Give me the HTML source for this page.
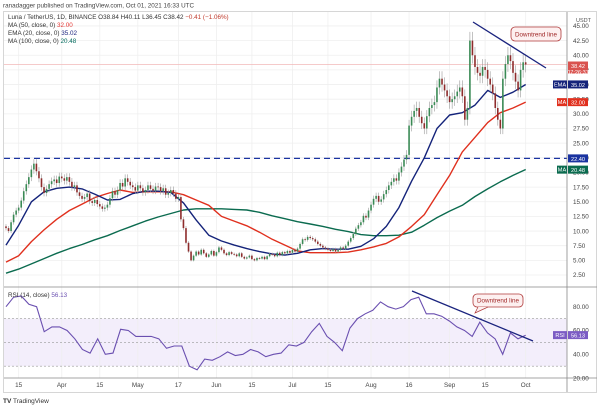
<!DOCTYPE html>
<html><head><meta charset="utf-8"><style>
body{margin:0;background:#fff;width:600px;height:408px;overflow:hidden}
svg{display:block;font-family:"Liberation Sans",sans-serif}
</style></head><body>
<svg id="chart" width="600" height="408" viewBox="0 0 600 408" xmlns="http://www.w3.org/2000/svg">
<text x="3" y="7.5" font-size="6.3" fill="#444">ranadagger published on TradingView.com, Oct 01, 2021 16:33 UTC</text>
<rect x="3.5" y="11.5" width="593" height="381" fill="none" stroke="#d6d6d6"/>
<rect x="4" y="318.6" width="563" height="47.6" fill="#f3eefb"/>
<g id="grid"></g>
<g id="price"></g>
<g id="rsi"></g>
<g id="axes"></g>
<text x="8" y="19" font-size="6.3" fill="#333">Luna / TetherUS, 1D, BINANCE  O38.84  H40.11  L36.45  C38.42  <tspan fill="#c0392b">−0.41 (−1.06%)</tspan></text>
<text x="8" y="27" font-size="6.3" fill="#333">MA (50, close, 0) <tspan fill="#e53935">32.00</tspan></text>
<text x="8" y="35" font-size="6.3" fill="#333">EMA (20, close, 0) <tspan fill="#1a237e">35.02</tspan></text>
<text x="8" y="43" font-size="6.3" fill="#333">MA (100, close, 0) <tspan fill="#00695c">20.48</tspan></text>
<text x="8" y="297" font-size="6.3" fill="#333">RSI (14, close) <tspan fill="#6a4fb0">56.13</tspan></text>
<line x1="473" y1="22" x2="546" y2="68" stroke="#1a237e" stroke-width="1.3"/>
<rect x="511" y="27" width="50" height="14" rx="4" fill="#fdf0f0" stroke="#b03a3a" stroke-width="0.8"/>
<text x="536" y="36.5" font-size="6.3" fill="#a02828" text-anchor="middle">Downtrend line</text>
<line x1="412" y1="291" x2="533" y2="341" stroke="#1a237e" stroke-width="1.3"/>
<rect x="473" y="294" width="50" height="13" rx="4" fill="#fdf0f0" stroke="#b03a3a" stroke-width="0.8"/>
<path d="M478 307 L475 313 L488 307" fill="#fdf0f0" stroke="#b03a3a" stroke-width="0.7"/>
<text x="498" y="302.5" font-size="6.3" fill="#a02828" text-anchor="middle">Downtrend line</text>
<g id="badges"></g>
<text x="3" y="403" font-size="6.5" fill="#333"><tspan font-weight="bold">TV</tspan> TradingView</text>
</svg>
<script>
const closes=[10.5,10,11.5,12.8,13.5,14,15.2,16.8,18,19.2,
20.5,21.5,20.2,19,17.5,16.5,17.2,18,18.5,18.8,
18.2,19.3,19,18.6,19.2,18.4,17.5,17.8,16.6,16.0,
15.5,15.8,16.4,15.1,14.8,15.3,14.6,14.2,13.8,14.0,
14.5,15.6,16.8,16.2,17,18.2,17.6,19,18.4,17.8,
17.5,16.9,17.8,17.3,16.6,17,17.8,17.2,16.9,17.6,
17.5,16.8,17.3,16.2,16.5,17.0,16.4,15.5,15.8,12,
10.5,8,6.5,5,5.8,6.5,6.0,6.8,6.2,5.6,
6,6.6,5.8,6.4,7.2,6.8,6.2,5.9,6.4,6.1,
6,5.7,6.2,5.6,5.3,5.5,5.8,5.2,5.0,5.4,
5.3,5.6,5.2,5.7,6.1,6,5.7,6.3,5.9,6.4,
6.2,6.6,6.3,6.8,6.5,7,7.8,8.6,8.5,9,
8.8,8.6,8.2,7.8,7.5,7.2,7,6.8,6.6,6.9,
6.5,6.8,7.2,7.0,7.5,8.2,8.8,9.5,10.4,11,
11.5,12.6,12.3,13.5,14.5,15.5,16,15,15.4,16.3,
17,17.8,18.4,19,18.6,20,21,22.2,23,28,
29.5,30.5,31,29.5,28.4,27.5,29.6,31,31.5,32,
34.5,36,35,34,33,32,32.5,33,33.8,34.5,
33,29,31,42.5,40,38,37,36.5,38,37.5,
36,35,33.5,31,29,27.5,36,38.5,40,39,
37,35.5,34,37.5,38.8,38.42];
const firstOpen=10.8;
const ema20=[7.6,11,15,16.7,17.3,17.5,17.2,16.3,15.3,15.4,16.4,16.8,16.8,16.6,14.8,11.9,9.3,8.3,7.6,7.0,6.5,6.1,5.9,6.2,6.8,7.0,6.9,6.9,7.4,8.7,10.8,14.0,18.5,22.5,27.5,29.8,30.2,31.5,34,32.8,33.7,35.0];
const ma50=[4.7,5.8,8.2,10.2,12,13.5,14.6,15.7,16.4,17,16.6,16.7,16.7,16.7,16.2,15.3,14.4,12.5,11.7,10.9,9.8,8.6,7.6,6.6,6.3,6.3,6.3,6.4,6.8,7.3,7.9,9.0,10.8,12.8,16.2,19.5,23.5,26,28.5,30.2,31,32];
const ma100=[2.8,3.5,4.4,5.3,6.2,7.0,7.7,8.5,9.2,10.1,10.9,11.7,12.4,13.0,13.6,13.8,13.8,13.8,13.7,13.6,13.2,12.6,12.1,11.6,11.2,10.8,10.3,9.9,9.4,9.2,9.2,9.3,9.8,11.0,12.3,13.4,14.4,15.9,17.2,18.4,19.5,20.5];
const rsiVals=[80,88,89,82,80,59,63,63,60,53,44,41,53,40,41,61,60,55,55,55,53,45,47,47,30,27,36,35,38,42,39,40,44,42,38,40,41,48,47,50,59,66,55,50,43,62,70,74,77,84,80,78,80,86,88,74,74,72,68,63,60,55,67,58,53,40,58,53,56];
const priceTicks=[45,42.5,40,37.5,35,32.5,30,27.5,25,22.5,20,17.5,15,12.5,10,7.5,5,2.5];
const rsiTicks=[80,60,40,20];
const timeLabels=["15","Apr","15","May","17","Jun","15","Jul","15","Aug","16","Sep","15","Oct"];
const timeDays=[5,22,37,52,68,83,97,113,127,144,159,175,189,205];
const support=22.40, lastPrice=38.42;

const NS="http://www.w3.org/2000/svg";
const xD=i=>6+i*2.535;
const yP=p=>275-(p-2.5)*5.86;
const yR=r=>306.7+(80-r)*1.19;
function mk(tag,attrs,parent){const e=document.createElementNS(NS,tag);for(const k in attrs)e.setAttribute(k,attrs[k]);document.getElementById(parent).appendChild(e);return e;}

// grid
priceTicks.forEach(p=>{const l=mk('line',{x1:4,x2:567,y1:yP(p),y2:yP(p),stroke:'#efefef','stroke-width':0.8},'grid');

});
timeDays.forEach(d=>{const l=mk('line',{x1:xD(d),x2:xD(d),y1:12,y2:378,stroke:'#efefef','stroke-width':0.8},'grid');

});
[70,50,30].forEach(r=>{const l=mk('line',{x1:4,x2:567,y1:yR(r),y2:yR(r),stroke:'#999','stroke-width':0.6,'stroke-dasharray':'2,2'},'grid');

});
// last price line
const lp=mk('line',{x1:4,x2:567,y1:yP(lastPrice),y2:yP(lastPrice),stroke:'#f2b8b8','stroke-width':0.7},'grid');


const sl=mk('line',{x1:4,x2:567,y1:yP(support),y2:yP(support),stroke:'#1a33a0','stroke-width':1.2,'stroke-dasharray':'6,4'},'grid');



// MA lines
function maLine(arr,color,name){const pts=arr.map((v,k)=>xD(k*5).toFixed(1)+','+yP(v).toFixed(1)).join(' ');
const l=mk('polyline',{points:pts,fill:'none',stroke:color,'stroke-width':1.4,'stroke-linejoin':'round'},'price');

}
maLine(ma100,'#0b6b4f','ma100-line');
maLine(ma50,'#e0301e','ma50-line');
maLine(ema20,'#14237a','ema20-line');

// candles
closes.forEach((c,i)=>{const o=i?closes[i-1]:firstOpen;const hi=Math.max(o,c)*1.035,lo=Math.min(o,c)*0.965;const x=xD(i);
const up=c>=o;
const w=mk('line',{x1:x,x2:x,y1:yP(hi),y2:yP(lo),stroke:'#9a9a9a','stroke-width':0.6},'price');


const t=Math.min(yP(o),yP(c)),h=Math.max(0.8,Math.abs(yP(o)-yP(c)));
const b=mk('rect',{x:x-0.8,y:t,width:1.6,height:h,fill:up?'#3a8a55':'#8e2c2c'},'price');

});

// RSI
const step=205/(rsiVals.length-1);
const rp=mk('polyline',{points:rsiVals.map((v,k)=>xD(k*step).toFixed(1)+','+yR(v).toFixed(1)).join(' '),fill:'none',stroke:'#6a4fb0','stroke-width':1.1},'rsi');



// axes
[[567,12,567,392],[4,287,597,287],[4,378,597,378]].forEach(a=>{const l=mk('line',{x1:a[0],y1:a[1],x2:a[2],y2:a[3],stroke:'#888','stroke-width':0.8},'axes');

});
priceTicks.forEach(p=>{const t=mk('text',{x:573,y:yP(p)+2.2,'font-size':6.3,fill:'#444'},'axes');t.textContent=p.toFixed(2);

});
rsiTicks.forEach(r=>{const t=mk('text',{x:573,y:yR(r)+2.2,'font-size':6.3,fill:'#444'},'axes');t.textContent=r.toFixed(2);

});
timeLabels.forEach((s,k)=>{const t=mk('text',{x:xD(timeDays[k]),y:387,'font-size':6.3,fill:'#444','text-anchor':'middle'},'axes');t.textContent=s;

});

// badges
function badge(y,h,fill,lines,name,tag){const g=mk('g',{},'badges');


const r=document.createElementNS(NS,'rect');r.setAttribute('x',568);r.setAttribute('y',y-h/2);r.setAttribute('width',20);r.setAttribute('height',h);r.setAttribute('fill',fill);g.appendChild(r);
lines.forEach((s,k)=>{const t=document.createElementNS(NS,'text');t.setAttribute('x',578);t.setAttribute('y',y-h/2+6.5+k*6);t.setAttribute('font-size',5.6);t.setAttribute('fill','#fff');t.setAttribute('text-anchor','middle');t.textContent=s;g.appendChild(t);});
if(tag){const r2=document.createElementNS(NS,'rect');r2.setAttribute('x',568-tag.length*4-3);r2.setAttribute('y',y-4);r2.setAttribute('width',tag.length*4+2);r2.setAttribute('height',8);r2.setAttribute('fill',fill);g.appendChild(r2);
const t=document.createElementNS(NS,'text');t.setAttribute('x',568-tag.length*2-2);t.setAttribute('y',y+2);t.setAttribute('font-size',5.6);t.setAttribute('fill','#fff');t.setAttribute('text-anchor','middle');t.textContent=tag;g.appendChild(t);}}
badge(yP(lastPrice)+3,12,'#d9534f',['38.42','07:26:37'],'last-price-badge');
badge(yP(35.02),8,'#14237a',['35.02'],'ema-badge','EMA');
badge(yP(32.00),8,'#e0301e',['32.00'],'ma50-badge','MA');
badge(yP(support),8,'#1a33a0',['22.40'],'support-badge');
badge(yP(20.48),8,'#0b6b4f',['20.48'],'ma100-badge','MA');
badge(yR(56.13),8,'#7b5cc4',['56.13'],'rsi-badge','RSI');
const u=mk('text',{x:576,y:22,'font-size':5.5,fill:'#555'},'badges');u.textContent='USDT';


</script>
</body></html>
